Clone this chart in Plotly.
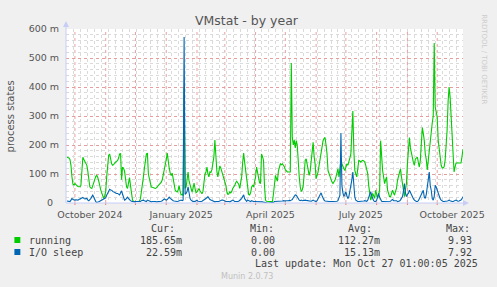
import pandas as pd
import plotly.graph_objects as go

# ---------------- data (values in milli-units, one sample per day) ----------------
start_date = "2024-09-23"
n_days = 400

running = [
    158,157,155,150,130,90,65,62,67,63,
    58,57,56,56,60,110,158,150,142,135,
    130,109,78,56,52,50,60,72,85,92,
    95,88,75,56,45,35,22,16,25,39,
    90,140,165,169,150,135,130,132,138,142,
    145,147,155,169,170,80,124,120,110,70,
    56,50,70,88,60,20,10,6,5,5,
    5,5,5,6,15,35,55,90,120,150,
    169,172,100,84,62,55,54,53,50,50,
    52,56,60,64,70,72,80,95,110,124,
    150,172,141,120,103,95,103,80,60,45,
    40,38,45,60,40,28,30,25,400,50,
    55,86,107,75,62,45,38,50,69,50,
    35,38,45,50,42,35,32,40,70,100,
    107,124,100,90,107,105,115,138,160,217,
    150,110,90,115,128,120,110,100,85,75,
    62,40,30,31,38,35,40,50,55,60,
    70,75,70,65,50,70,90,140,172,140,
    110,100,60,30,28,35,55,62,55,70,
    90,124,100,78,70,67,169,160,147,60,
    10,6,5,5,5,5,5,5,30,67,
    95,85,75,110,124,135,132,135,130,125,
    115,110,107,107,107,107,483,228,200,217,
    190,215,200,124,90,56,40,45,60,100,
    147,152,130,107,95,110,147,180,209,160,
    135,84,95,107,130,150,181,205,215,222,
    226,200,169,112,100,90,78,72,67,72,
    78,90,100,118,90,120,147,135,124,118,
    112,125,135,130,140,155,169,250,317,181,
    112,100,90,120,147,145,141,145,147,145,
    141,130,115,101,60,33,10,20,33,25,
    16,44,30,16,30,44,215,140,112,90,
    67,80,90,44,30,22,22,30,44,35,
    27,40,50,78,95,112,118,90,67,40,
    22,45,67,135,180,226,190,169,147,140,
    130,152,155,158,140,124,147,200,260,240,
    215,169,150,114,150,176,217,245,276,300,
    552,331,310,297,217,180,159,130,121,121,
    125,148,200,252,350,400,366,297,217,138,
    107,124,138,138,138,138,138,138,160,186,
]

io_sleep = [
    7,6,5,5,10,16,12,10,10,11,
    10,10,12,14,15,15,19,16,14,15,
    16,10,8,12,15,22,27,20,10,5,
    2,2,4,6,8,10,10,12,14,18,
    27,35,40,47,45,44,40,38,36,35,
    33,33,30,28,35,42,30,15,10,12,
    18,20,15,10,8,6,5,5,4,5,
    5,5,6,5,5,8,10,10,8,6,
    5,10,8,7,5,4,5,5,7,5,
    4,4,5,5,5,6,8,11,14,12,
    10,12,15,20,16,12,10,8,7,6,
    5,5,6,7,8,10,8,10,572,30,
    33,40,56,30,15,10,6,5,6,5,
    8,10,6,5,4,5,6,8,10,12,
    15,18,22,15,12,10,8,6,5,4,
    5,6,5,5,7,8,10,10,8,6,
    5,5,6,5,4,5,8,10,6,5,
    5,4,5,6,8,12,16,22,28,15,
    8,6,10,8,6,5,8,6,5,5,
    5,5,5,4,5,5,6,4,3,2,
    0,0,0,0,0,0,0,1,2,5,
    5,6,6,5,7,7,6,7,8,7,
    7,8,7,8,9,8,10,12,18,25,
    28,27,20,15,10,8,10,8,9,10,
    10,9,8,7,6,5,6,8,10,8,
    6,5,8,15,22,27,35,25,15,10,
    7,6,5,6,5,5,4,5,5,5,
    5,5,6,8,15,27,241,60,35,22,
    30,39,25,15,22,40,52,80,107,45,
    20,10,7,5,5,5,6,6,6,7,
    8,7,6,10,20,33,39,25,15,8,
    5,5,10,22,33,20,10,6,5,5,
    5,6,6,7,5,5,6,10,12,8,
    8,10,8,5,5,7,10,15,22,40,
    67,35,22,30,33,44,35,27,22,15,
    10,6,5,5,8,15,22,27,33,44,
    20,16,30,56,80,107,60,44,15,10,
    22,61,55,44,30,22,15,10,6,5,
    5,5,6,7,8,10,8,6,5,5,
    6,8,10,8,6,7,8,10,15,22,
]

month_labels = ["October 2024", "January 2025", "April 2025", "July 2025", "October 2025"]
month_label_dates = ["2024-10-16", "2025-01-16", "2025-04-16", "2025-07-16", "2025-10-16"]
y_tick_vals = [0, 100, 200, 300, 400, 500, 600]
y_tick_text = ["0\u00a0\u00a0", "100 m", "200 m", "300 m", "400 m", "500 m", "600 m"]

legend_names = ["running", "I/O sleep"]
legend_colors = ["#00cc00", "#0066b3"]
cur_vals = ["185.65m", "22.59m"]
min_vals = ["0.00", "0.00"]
avg_vals = ["112.27m", "15.13m"]
max_vals = ["9.93", "7.92"]

# ---------------- figure ----------------
dates = pd.date_range(start_date, periods=n_days, freq="D")
x_start = pd.Timestamp("2024-09-22")
x_end = pd.Timestamp("2025-10-27")

W, H = 497, 287
L, R, T, B = 66, 466, 29, 203


def px(xp):
    return (xp - L) / (R - L)


def py(yp):
    return (B - yp) / (B - T)


fig = go.Figure()
fig.add_trace(go.Scatter(x=dates, y=running, mode="lines",
                         line=dict(color=legend_colors[0], width=1.1), showlegend=False))
fig.add_trace(go.Scatter(x=dates, y=io_sleep, mode="lines",
                         line=dict(color=legend_colors[1], width=1.1), showlegend=False))

shapes = []
# monthly red gridlines + small ticks
months = pd.date_range("2024-10-01", "2025-10-01", freq="MS")
for m in months:
    shapes.append(dict(type="line", xref="x", yref="paper", x0=m, x1=m, y0=0, y1=1,
                       line=dict(color="rgba(230,150,150,0.9)", width=1, dash="dot"), layer="below"))
    shapes.append(dict(type="line", xref="x", yref="paper", x0=m, x1=m, y0=0, y1=py(B + 2),
                       line=dict(color="rgba(230,120,120,1)", width=1), layer="above"))
# axis lines and arrows
axc = "#c8cdf5"
shapes.append(dict(type="line", xref="paper", yref="paper", x0=0, x1=0, y0=0, y1=py(24),
                   line=dict(color=axc, width=1)))
shapes.append(dict(type="line", xref="paper", yref="paper", x0=0, x1=px(468), y0=0, y1=0,
                   line=dict(color=axc, width=1)))
shapes.append(dict(type="path", xref="paper", yref="paper",
                   path=f"M {px(63)} {py(27)} L {px(69)} {py(27)} L {px(66)} {py(21)} Z",
                   fillcolor=axc, line=dict(color=axc, width=0)))
shapes.append(dict(type="path", xref="paper", yref="paper",
                   path=f"M {px(466)} {py(200)} L {px(466)} {py(206)} L {px(472)} {py(203)} Z",
                   fillcolor=axc, line=dict(color=axc, width=0)))
# legend squares
for i, c in enumerate(legend_colors):
    yc = 240 + 12 * i
    shapes.append(dict(type="rect", xref="paper", yref="paper",
                       x0=px(14), x1=px(20), y0=py(yc + 3), y1=py(yc - 3),
                       fillcolor=c, line=dict(width=0)))

mono = "DejaVu Sans Mono"
tc = "#444444"
ann = []


def text(xp, yp, s, anchor="left", size=10, color=tc, family=mono, angle=0):
    ann.append(dict(xref="paper", yref="paper", x=px(xp), y=py(yp), text=s, showarrow=False,
                    xanchor=anchor, yanchor="middle", textangle=angle,
                    font=dict(family=family, size=size, color=color)))


text(248, 20, "VMstat - by year", anchor="center", size=12.5, color="#555555", family="DejaVu Sans")
text(10, 116, "process states", anchor="center", size=10, color="#555555", family="DejaVu Sans", angle=-90)
text(487, 59, "RRDTOOL / TOBI OETIKER", anchor="center", size=7, color="#cccccc", family="DejaVu Sans", angle=90)

for xp, s in [(150, "Cur:"), (249, "Min:"), (348, "Avg:"), (447, "Max:")]:
    text(xp, 228, s)
for i, name in enumerate(legend_names):
    yc = 240 + 12 * i
    text(27, yc, name)
    text(185, yc, cur_vals[i], anchor="right")
    text(279, yc, min_vals[i], anchor="right")
    text(384, yc, avg_vals[i], anchor="right")
    text(477, yc, max_vals[i], anchor="right")
text(483, 263, "Last update: Mon Oct 27 01:00:05 2025", anchor="right")
text(248, 276, "Munin 2.0.73", anchor="center", size=8, color="#c0c0c0", family="DejaVu Sans")

fig.update_layout(
    width=W, height=H,
    margin=dict(l=L, r=W - R, t=T, b=H - B, pad=0),
    paper_bgcolor="#f0f0f0", plot_bgcolor="#ffffff",
    showlegend=False,
    shapes=shapes, annotations=ann,
    xaxis=dict(range=[x_start, x_end], tickmode="array", tickvals=month_label_dates,
               ticktext=month_labels, ticks="outside", ticklen=3, tickcolor="rgba(0,0,0,0)",
               showgrid=False, zeroline=False, showline=False,
               tickfont=dict(family="DejaVu Sans", size=9.5, color="#555555"),
               minor=dict(dtick=7 * 86400000, tick0="2024-09-23", showgrid=True,
                          gridcolor="#dadada", griddash="dot", gridwidth=1)),
    yaxis=dict(range=[0, 600], tickmode="array", tickvals=y_tick_vals, ticktext=y_tick_text,
               ticks="outside", ticklen=4, tickcolor="rgba(0,0,0,0)",
               showgrid=True, gridcolor="rgba(230,150,150,0.9)", griddash="dot", gridwidth=1,
               zeroline=False, showline=False,
               tickfont=dict(family="DejaVu Sans", size=9.5, color="#555555"),
               minor=dict(dtick=20, showgrid=True, gridcolor="#dadada", griddash="dot", gridwidth=1)),
)

fig.write_html("out.html")
